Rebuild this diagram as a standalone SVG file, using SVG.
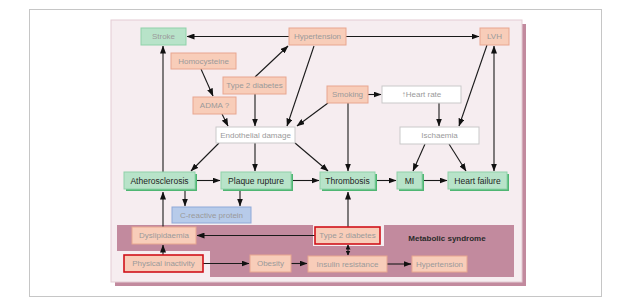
<svg xmlns="http://www.w3.org/2000/svg" width="640" height="307" viewBox="0 0 640 307">
<defs>
<marker id="ah" markerWidth="8" markerHeight="6" refX="7.5" refY="3" orient="auto-start-reverse" markerUnits="userSpaceOnUse"><path d="M0,0 L8,3 L0,6 z" fill="#111"/></marker>
<marker id="ahs" markerWidth="5" markerHeight="5" refX="4.5" refY="2.5" orient="auto-start-reverse" markerUnits="userSpaceOnUse"><path d="M0,0 L5,2.5 L0,5 z" fill="#111"/></marker>
</defs>
<style>
text{font-family:"Liberation Sans",Arial,sans-serif;font-size:8px;text-anchor:middle;dominant-baseline:central;fill:#9a9a9a}
.pk rect{fill:#f8cdb9;stroke:#e8a68f;stroke-width:1}
.wt rect{fill:#ffffff;stroke:#c9c9c9;stroke-width:1}
.gr rect.b{fill:#b8e3c9;stroke:#8fd2a9;stroke-width:1}
.gr rect.s{fill:#4fb673}
.gr text{fill:#1e1e1e;font-size:8.5px}
.st rect{fill:#b8e3c9;stroke:#8fd2a9;stroke-width:1}
.bl rect{fill:#b7cbea;stroke:#8ea9d8;stroke-width:1}
.rd rect{fill:#f8cdb9;stroke:#d0121b;stroke-width:1.6}
#connectors line{stroke:#1a1a1a;stroke-width:1.1;marker-end:url(#ah)}
#connectors line.dbl{marker-start:url(#ah)}
#connectors line.dbls{marker-start:url(#ahs);marker-end:url(#ahs)}
</style>
<rect x="0" y="0" width="640" height="307" fill="#ffffff"/>
<rect x="29.5" y="9.5" width="572" height="287" fill="#ffffff" stroke="#c6c6c6"/>
<rect x="115" y="24" width="411" height="262" fill="#c28a9e"/>
<rect x="111" y="20" width="411" height="262" fill="#f6edf0" stroke="#e3cbd3"/>
<path d="M117,225 L313,225 L313,246 L384,246 L384,225 L514,225 L514,277 L210,277 L210,251 L117,251 Z" fill="#c28a9e"/>
<text x="447" y="238" style="fill:#2a2a2a;font-weight:bold;font-size:8px">Metabolic syndrome</text>

<g id="connectors">
<line x1="289" y1="36.5" x2="187" y2="36.5"/>
<line x1="346" y1="36.5" x2="479" y2="36.5"/>
<line x1="255" y1="77" x2="288" y2="46"/>
<line x1="314" y1="46" x2="287" y2="126"/>
<line x1="201" y1="69" x2="213" y2="96"/>
<line x1="222" y1="114" x2="228" y2="126"/>
<line x1="255" y1="94" x2="255" y2="126"/>
<line x1="328" y1="103" x2="297" y2="126"/>
<line x1="368" y1="94.5" x2="381" y2="94.5"/>
<line x1="348" y1="103" x2="348" y2="171"/>
<line x1="439" y1="103" x2="439" y2="126"/>
<line x1="487" y1="45" x2="459" y2="126"/>
<line class="dbl" x1="494" y1="46" x2="494" y2="171"/>
<line x1="425" y1="144" x2="413" y2="171"/>
<line x1="449" y1="144" x2="466" y2="171"/>
<line x1="219" y1="143" x2="191" y2="171"/>
<line x1="255" y1="143" x2="255" y2="171"/>
<line x1="295" y1="143" x2="328" y2="171"/>
<line x1="197" y1="180.5" x2="220" y2="180.5"/>
<line x1="293" y1="180.5" x2="319" y2="180.5"/>
<line x1="377" y1="180.5" x2="396" y2="180.5"/>
<line x1="424" y1="180.5" x2="447" y2="180.5"/>
<line x1="163" y1="172" x2="163" y2="46"/>
<line x1="185" y1="191" x2="185" y2="206"/>
<line x1="240" y1="191" x2="240" y2="206"/>
<line x1="163" y1="227" x2="163" y2="192"/>
<line x1="315" y1="235.5" x2="197" y2="235.5"/>
<line x1="163" y1="255" x2="163" y2="245"/>
<line x1="203" y1="263.5" x2="249" y2="263.5"/>
<line x1="291" y1="263.5" x2="307" y2="263.5"/>
<line x1="387" y1="264" x2="411" y2="264"/>
<line class="dbls" x1="348" y1="245" x2="348" y2="255"/>
<line x1="348" y1="227" x2="348" y2="192"/>
</g>

<g id="stroke" class="st"><rect x="141" y="28" width="45" height="17"/><text x="163.5" y="36.5">Stroke</text></g>
<g id="hypertension-top" class="pk"><rect x="289" y="28" width="57" height="17"/><text x="317.5" y="36.5">Hypertension</text></g>
<g id="lvh" class="pk"><rect x="480" y="28" width="29" height="17"/><text x="494.5" y="36.5">LVH</text></g>
<g id="homocysteine" class="pk"><rect x="171" y="53" width="65" height="16"/><text x="203.5" y="61">Homocysteine</text></g>
<g id="type2-top" class="pk"><rect x="223" y="77" width="63" height="17"/><text x="254.5" y="85.5">Type 2 diabetes</text></g>
<g id="adma" class="pk"><rect x="193" y="97" width="43" height="17"/><text x="214.5" y="105.5">ADMA ?</text></g>
<g id="smoking" class="pk"><rect x="327" y="86" width="41" height="17"/><text x="347.5" y="94.5">Smoking</text></g>
<g id="heart-rate" class="wt"><rect x="382" y="86" width="79" height="17"/><text x="421.5" y="94.5">↑Heart rate</text></g>
<g id="ischaemia" class="wt"><rect x="400" y="127" width="79" height="17"/><text x="439.5" y="135.5">Ischaemia</text></g>
<g id="endothelial" class="wt"><rect x="216" y="127" width="79" height="16"/><text x="255.5" y="135">Endothelial damage</text></g>
<g id="atherosclerosis" class="gr"><rect class="s" x="126" y="174" width="71" height="17"/><rect class="b" x="124" y="172" width="71" height="17"/><text x="159.5" y="180.5">Atherosclerosis</text></g>
<g id="plaque" class="gr"><rect class="s" x="223" y="174" width="70" height="17"/><rect class="b" x="221" y="172" width="70" height="17"/><text x="256" y="180.5">Plaque rupture</text></g>
<g id="thrombosis" class="gr"><rect class="s" x="322" y="174" width="55" height="17"/><rect class="b" x="320" y="172" width="55" height="17"/><text x="347.5" y="180.5">Thrombosis</text></g>
<g id="mi" class="gr"><rect class="s" x="399" y="174" width="25" height="17"/><rect class="b" x="397" y="172" width="25" height="17"/><text x="409.5" y="180.5">MI</text></g>
<g id="heart-failure" class="gr"><rect class="s" x="450" y="174" width="59" height="17"/><rect class="b" x="448" y="172" width="59" height="17"/><text x="477.5" y="180.5">Heart failure</text></g>
<g id="crp" class="bl"><rect x="172" y="207" width="79" height="16"/><text x="211.5" y="215">C-reactive protein</text></g>
<g id="dyslipidaemia" class="pk"><rect x="132" y="227" width="64" height="17"/><text x="164" y="235.5">Dyslipidaemia</text></g>
<g id="type2-bottom" class="rd"><rect x="315" y="227" width="65" height="17"/><text x="347.5" y="235.5">Type 2 diabetes</text></g>
<g id="physical-inactivity" class="rd"><rect x="124" y="255" width="79" height="17"/><text x="163.5" y="263.5">Physical inactivity</text></g>
<g id="obesity" class="pk"><rect x="250" y="255" width="41" height="17"/><text x="270.5" y="263.5">Obesity</text></g>
<g id="insulin" class="pk"><rect x="308" y="256" width="79" height="16"/><text x="347.5" y="264">Insulin resistance</text></g>
<g id="hypertension-bottom" class="pk"><rect x="412" y="256" width="55" height="16"/><text x="439.5" y="264">Hypertension</text></g>
</svg>
